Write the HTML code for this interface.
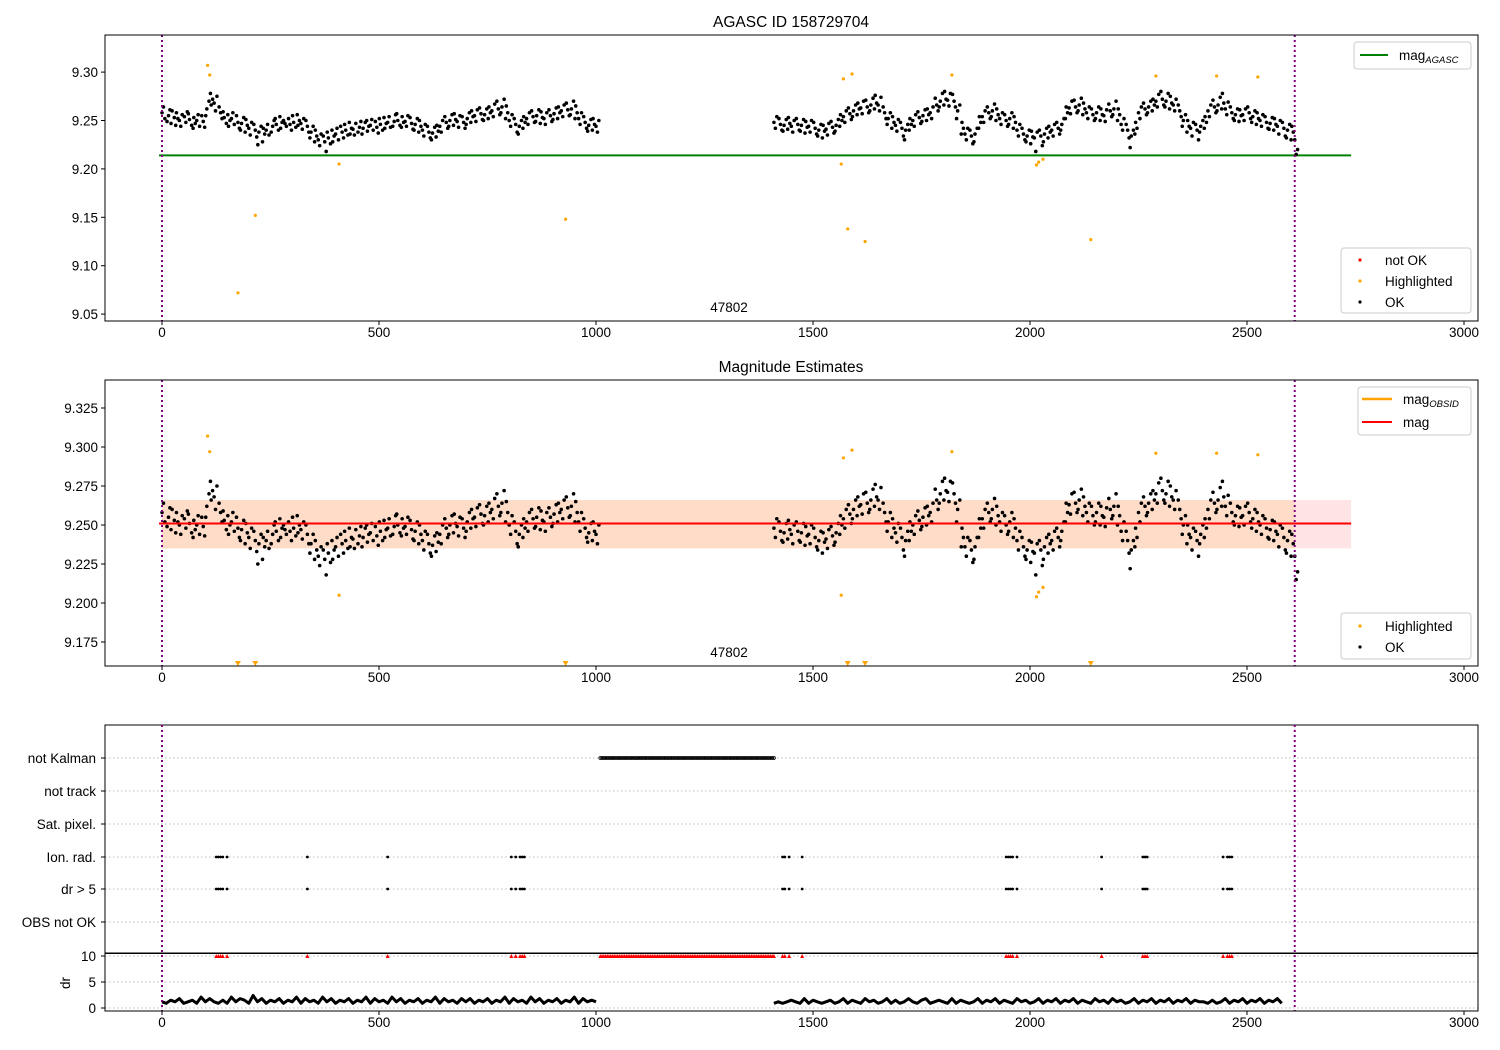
<!DOCTYPE html>
<html><head><meta charset="utf-8"><style>
body{margin:0;background:#fff;}
svg{display:block;font-family:"Liberation Sans","DejaVu Sans",sans-serif;}
</style></head><body>
<svg id="fig" width="1500" height="1050" xmlns="http://www.w3.org/2000/svg"></svg>
<script>
// ---- data ----
const segAStart = 0, segBStart = 1410, binStep = 10;
const segACodes = "58 52 64 55 49 61 60 53 47 52 58 45 50 56 44 48 54 59 51 45 57 47 53 42 50 44 56 49 55 43 62 70 55 72 66 78 68 75 60 58 64 52 53 47 59 50 44 56 52 46 58 48 55 42 47 53 40 45 51 38 42 48 35 40 46 33 38 44 25 36 42 28 40 35 46 44 38 50 46 40 52 48 42 54 50 44 47 46 52 40 48 43 55 50 45 56 47 52 41 44 50 38 38 44 32 34 40 28 30 36 24 28 34 18 32 26 38 34 28 40 36 30 42 38 44 32 40 35 46 42 36 48 41 47 35 43 38 49 42 48 36 44 39 50 45 40 51 43 49 37 46 40 52 47 42 53 48 43 54 49 44 56 50 45 57 48 54 43 49 55 44 47 53 41 46 52 40 44 50 38 40 46 34 38 44 32 37 43 30 39 45 33 44 50 38 48 54 42 50 56 44 51 57 45 49 55 43 48 54 42 52 58 46 54 60 48 55 61 49 57 63 51 56 62 50 58 64 52 60 67 54 62 70 56 64 72 58 58 65 52 50 56 44 46 52 38 44 50 36 48 54 42 52 58 46 54 60 48 55 61 49 53 59 47 52 58 46 55 61 49 57 63 51 58 64 52 60 66 54 61 68 55 62 70 56 58 65 52 52 58 46 48 54 42 45 51 39 46 52 40 44 50 38";
const segBCodes = "48 54 42 46 52 40 45 51 39 47 53 41 44 50 38 46 52 40 45 51 39 43 49 37 44 50 38 42 48 36 40 46 34 39 45 32 41 47 35 43 49 37 45 51 39 50 56 44 54 60 48 57 63 51 60 66 54 62 68 56 63 70 57 64 71 58 66 73 60 68 76 62 66 74 60 58 64 52 52 58 46 48 54 42 45 51 39 42 48 34 40 46 30 46 52 40 50 56 44 53 59 47 55 61 49 56 62 50 58 64 52 66 73 60 70 78 64 72 80 66 71 78 65 70 77 64 60 66 52 42 48 36 36 42 30 34 40 26 36 42 28 48 54 42 54 60 48 58 64 52 60 67 54 56 62 50 52 58 46 50 56 44 52 58 46 48 54 42 40 46 34 36 42 30 34 40 28 33 39 26 32 38 18 34 40 24 36 42 28 38 44 32 40 46 34 42 48 36 46 52 40 58 64 52 63 70 57 64 71 58 66 73 60 62 68 56 58 64 52 56 62 50 58 64 52 56 62 50 55 61 49 60 67 54 62 70 56 56 62 50 46 52 40 40 46 32 34 40 22 42 48 36 58 64 52 62 68 56 64 70 58 66 72 60 70 77 64 72 80 66 70 78 64 68 75 62 66 72 60 60 66 54 50 56 44 44 50 38 42 48 34 40 46 30 44 50 38 48 54 42 60 66 54 64 71 58 66 74 60 68 78 62 62 69 56 58 64 52 56 62 50 55 61 49 56 62 50 58 64 52 54 60 48 52 58 46 50 56 44 48 54 42 47 53 41 46 52 40 44 50 36 42 48 34 40 46 32 38 44 30 30 20 15";
const drA = "43546345374643537465384635463547364537463546354736453746354635473645364635463547364537463546354736454";
const drB = "3434543635434534635436453463534643563454363543463546354364534635463546354364536453463546354635463544353463546354635463";
const hlT = [105,110,175,215,408,930,1565,1570,1580,1590,1620,1820,2015,2020,2030,2140,2290,2430,2525];
const hlM = [9.307,9.297,9.072,9.152,9.205,9.148,9.205,9.293,9.138,9.298,9.125,9.297,9.204,9.207,9.210,9.127,9.296,9.296,9.295];
const flagTimes = [125,130,135,140,150,335,520,805,815,825,830,835,1430,1435,1445,1475,1945,1950,1955,1960,1970,2165,2260,2265,2270,2445,2455,2460,2465];
const kalmanStart = 1010, kalmanEnd = 1410;
const flagCats = ["not Kalman","not track","Sat. pixel.","Ion. rad.","dr > 5","OBS not OK"];
const xTicks = [0,500,1000,1500,2000,2500,3000];
const yTicksTop = [9.05,9.10,9.15,9.20,9.25,9.30];
const yTicksMid = [9.175,9.200,9.225,9.250,9.275,9.300,9.325];
const drTicks = [0,5,10];
const magAgasc = 9.214, magVal = 9.251, magLo = 9.235, magHi = 9.266;
const obsEnd = 2610, lineEnd = 2740;

// ---- helpers ----
const NS="http://www.w3.org/2000/svg", svg=document.getElementById('fig');
function mk(tag,attrs,parent){const e=document.createElementNS(NS,tag);for(const k in attrs)e.setAttribute(k,attrs[k]);(parent||svg).appendChild(e);return e;}
function txt(s,x,y,attrs,parent){const e=mk('text',Object.assign({x:x,y:y,'font-size':13.5,fill:'#000'},attrs||{}),parent);e.textContent=s;return e;}
const X = t => 162 + t*0.4340;
const Ytop = v => 120.5 - (v-9.25)*968;
const Ymid = v => 525 - (v-9.25)*1560;
const catY = [758,791,824,857,889,922];
const Ydr = v => 1008 - v*5.2;

const offsets = [[0,6.6,3.3],[5,1.6,8.3],[3.3,8.3,0.8],[6.6,3.3,1.6]];
function parseSeg(codes,start){const a=codes.trim().split(/\s+/).map(Number);const out=[];for(let i=0;i<a.length;i++){const bin=Math.floor(i/3),k=i%3;out.push([start+bin*binStep+offsets[bin%4][k],9.2+a[i]/1000]);}return out;}
const pts = parseSeg(segACodes,segAStart).concat(parseSeg(segBCodes,segBStart));

function frame(y0,y1,name){const r=mk('rect',{x:105,y:y0,width:1373,height:y1-y0,fill:'none',stroke:'#000','stroke-width':1});}
function xAxis(y,name){const g=mk('g',{});xTicks.forEach(t=>{mk('line',{x1:X(t),x2:X(t),y1:y,y2:y+4,stroke:'#000'},g);txt(String(t),X(t),y+16,{'text-anchor':'middle'},g);});}
function yAxis(ticks,f,name,dec){const g=mk('g',{});ticks.forEach(v=>{mk('line',{x1:101,x2:105,y1:f(v),y2:f(v),stroke:'#000'},g);txt(v.toFixed(dec),98,f(v)+5,{'text-anchor':'end'},g);});}
function vlines(y0,y1){[0,obsEnd].forEach(t=>{const l=mk('line',{x1:X(t),x2:X(t),y1:y0,y2:y1,stroke:'#800080','stroke-width':2,'stroke-dasharray':'2,3'});});}

// ---- panel 1 ----
let t1=txt('AGASC ID 158729704',791,27,{'text-anchor':'middle','font-size':15.5});
let gl=mk('line',{x1:X(0)-3,x2:X(lineEnd),y1:Ytop(magAgasc),y2:Ytop(magAgasc),stroke:'#008000','stroke-width':2});
let g1=mk('g',{});
pts.forEach(p=>mk('circle',{cx:X(p[0]),cy:Ytop(p[1]),r:1.8,fill:'#000'},g1));
let h1=mk('g',{});
hlT.forEach((t,i)=>mk('circle',{cx:X(t),cy:Ytop(hlM[i]),r:1.6,fill:'orange'},h1));
vlines(35,321);
frame(35,321,'top-axes');
xAxis(321,'top-x-axis');yAxis(yTicksTop,Ytop,'top-y-axis',2);
let o1=txt('47802',729,312,{'text-anchor':'middle'});
function legendBox(x,y,w,h,name){const g=mk('g',{});mk('rect',{x:x,y:y,width:w,height:h,rx:3,fill:'#fff','fill-opacity':0.8,stroke:'#ccc'},g);return g;}
let L1=legendBox(1354,42,117,27,'top-legend-mag');
mk('line',{x1:1360,x2:1388,y1:55,y2:55,stroke:'#008000','stroke-width':2},L1);
let lt=txt('mag',1399,60,{},L1);let ts=mk('tspan',{'font-size':9.5,'font-style':'italic',dy:3},lt);ts.textContent='AGASC';
let L2=legendBox(1341,248,130,65,'top-legend-status');
[['not OK','red',260],['Highlighted','orange',281],['OK','#000',302]].forEach(a=>{mk('circle',{cx:1360,cy:a[2],r:1.6,fill:a[1]},L2);txt(a[0],1385,a[2]+5,{},L2);});

// ---- panel 2 ----
let t2=txt('Magnitude Estimates',791,372,{'text-anchor':'middle','font-size':15.5});
let b1=mk('rect',{x:X(0),y:Ymid(magHi),width:X(lineEnd)-X(0),height:Ymid(magLo)-Ymid(magHi),fill:'#ffe4e6'});
let b2=mk('rect',{x:X(0),y:Ymid(magHi),width:X(obsEnd)-X(0),height:Ymid(magLo)-Ymid(magHi),fill:'#ffdcc8'});
let g2=mk('g',{});
pts.forEach(p=>mk('circle',{cx:X(p[0]),cy:Ymid(p[1]),r:1.8,fill:'#000'},g2));
let h2=mk('g',{});
hlT.forEach((t,i)=>{const v=hlM[i];if(v<9.16){const x=X(t);mk('path',{d:`M${x-3},661 L${x+3},661 L${x},666 Z`,fill:'orange'},h2);}else mk('circle',{cx:X(t),cy:Ymid(v),r:1.6,fill:'orange'},h2);});
let ol=mk('line',{x1:X(0),x2:X(obsEnd),y1:Ymid(magVal),y2:Ymid(magVal),stroke:'orange','stroke-width':2});
let rl=mk('line',{x1:X(0)-3,x2:X(lineEnd),y1:Ymid(magVal),y2:Ymid(magVal),stroke:'red','stroke-width':2});
vlines(380,666);
frame(380,666,'middle-axes');
xAxis(666,'middle-x-axis');yAxis(yTicksMid,Ymid,'middle-y-axis',3);
let o2=txt('47802',729,657,{'text-anchor':'middle'});
let L3=legendBox(1358,387,113,48,'middle-legend-mag');
mk('line',{x1:1362,x2:1392,y1:399,y2:399,stroke:'orange','stroke-width':2.5},L3);
let lt2=txt('mag',1403,404,{},L3);let ts2=mk('tspan',{'font-size':9.5,'font-style':'italic',dy:3},lt2);ts2.textContent='OBSID';
mk('line',{x1:1362,x2:1392,y1:422,y2:422,stroke:'red','stroke-width':2},L3);txt('mag',1403,427,{},L3);
let L4=legendBox(1341,613,130,46,'middle-legend-status');
[['Highlighted','orange',626],['OK','#000',647]].forEach(a=>{mk('circle',{cx:1360,cy:a[2],r:1.6,fill:a[1]},L4);txt(a[0],1385,a[2]+5,{},L4);});

// ---- panel 3: flags ----
let gg=mk('g',{});
flagCats.forEach((c,i)=>{mk('line',{x1:105,x2:1478,y1:catY[i],y2:catY[i],stroke:'#bbb','stroke-dasharray':'1.5,2.5'},gg);mk('line',{x1:101,x2:105,y1:catY[i],y2:catY[i],stroke:'#000'},gg);txt(c,96,catY[i]+5,{'text-anchor':'end'},gg);});
let gk=mk('g',{});
for(let t=kalmanStart;t<=kalmanEnd;t+=4)mk('circle',{cx:X(t),cy:catY[0],r:1.4,fill:'none',stroke:'#000','stroke-width':0.9},gk);
let gf=mk('g',{});
flagTimes.forEach(t=>{[3,4].forEach(i=>mk('circle',{cx:X(t),cy:catY[i],r:1.4,fill:'#000'},gf));});
frame(725,953,'flags-axes');
let gd=mk('g',{});
drTicks.forEach(v=>{mk('line',{x1:105,x2:1478,y1:Ydr(v),y2:Ydr(v),stroke:'#bbb','stroke-dasharray':'1.5,2.5'},gd);mk('line',{x1:101,x2:105,y1:Ydr(v),y2:Ydr(v),stroke:'#000'},gd);txt(String(v),96,Ydr(v)+5,{'text-anchor':'end'},gd);});
let dl=txt('dr',70,983,{'text-anchor':'middle',transform:'rotate(-90 70 983)'});
function drPath(str,start){return str.split('').map((d,i)=>(i?'L':'M')+X(start+i*binStep).toFixed(1)+','+Ydr(Number(d)*0.3).toFixed(1)).join(' ');}
[[drA,segAStart],[drB,segBStart]].forEach(s=>{const p=mk('path',{d:drPath(s[0],s[1]),fill:'none',stroke:'#000','stroke-width':3,'stroke-linejoin':'round'});});
let gr=mk('g',{});
const redT=flagTimes.slice();for(let t=kalmanStart;t<=kalmanEnd;t+=4)redT.push(t);
redT.forEach(t=>{const x=X(t),y=Ydr(10);mk('path',{d:`M${x-2},${y+2} L${x+2},${y+2} L${x},${y-2} Z`,fill:'red'},gr);});
vlines(725,1011);
mk('line',{x1:105,x2:1478,y1:953.5,y2:953.5,stroke:'#000'});
frame(953,1011,'dr-axes');
xAxis(1011,'bottom-x-axis');
</script>
</body></html>
